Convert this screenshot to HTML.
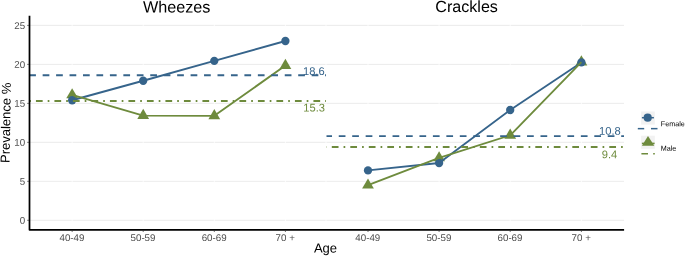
<!DOCTYPE html>
<html><head><meta charset="utf-8"><title>Prevalence</title>
<style>html,body{margin:0;padding:0;background:#fff;}svg{display:block;will-change:transform;}text{font-family:"Liberation Sans",sans-serif;}</style></head><body>
<svg width="685" height="256" viewBox="0 0 685 256">
<rect width="685" height="256" fill="#fff"/>
<line x1="30" x2="624" y1="220.3" y2="220.3" stroke="#e9e9e9" stroke-width="0.9"/>
<line x1="30" x2="624" y1="181.32" y2="181.32" stroke="#e9e9e9" stroke-width="0.9"/>
<line x1="30" x2="624" y1="142.34" y2="142.34" stroke="#e9e9e9" stroke-width="0.9"/>
<line x1="30" x2="624" y1="103.36" y2="103.36" stroke="#e9e9e9" stroke-width="0.9"/>
<line x1="30" x2="624" y1="64.38" y2="64.38" stroke="#e9e9e9" stroke-width="0.9"/>
<line x1="30" x2="624" y1="25.4" y2="25.4" stroke="#e9e9e9" stroke-width="0.9"/>
<line x1="72.15" x2="72.15" y1="16" y2="229" stroke="#fff" stroke-width="0.8"/>
<line x1="143.2" x2="143.2" y1="16" y2="229" stroke="#fff" stroke-width="0.8"/>
<line x1="214.3" x2="214.3" y1="16" y2="229" stroke="#fff" stroke-width="0.8"/>
<line x1="285.4" x2="285.4" y1="16" y2="229" stroke="#fff" stroke-width="0.8"/>
<line x1="368.0" x2="368.0" y1="16" y2="229" stroke="#fff" stroke-width="0.8"/>
<line x1="439.1" x2="439.1" y1="16" y2="229" stroke="#fff" stroke-width="0.8"/>
<line x1="510.2" x2="510.2" y1="16" y2="229" stroke="#fff" stroke-width="0.8"/>
<line x1="581.4" x2="581.4" y1="16" y2="229" stroke="#fff" stroke-width="0.8"/>
<line x1="326.0" x2="326.0" y1="16" y2="229" stroke="#fff" stroke-width="0.8"/>
<polygon points="72.15,88.14 78.04,98.34 66.26,98.34" fill="#6E8B3D"/>
<polygon points="143.20,108.80 149.09,119.00 137.31,119.00" fill="#6E8B3D"/>
<polygon points="214.30,109.03 220.19,119.23 208.41,119.23" fill="#6E8B3D"/>
<polygon points="285.40,58.75 291.29,68.95 279.51,68.95" fill="#6E8B3D"/>
<circle cx="72.15" cy="100.24" r="4.15" fill="#36648B"/>
<circle cx="143.2" cy="80.75" r="4.15" fill="#36648B"/>
<circle cx="214.3" cy="60.87" r="4.15" fill="#36648B"/>
<circle cx="285.4" cy="40.99" r="4.15" fill="#36648B"/>
<polyline points="72.15,100.24 143.2,80.75 214.3,60.87 285.4,40.99" fill="none" stroke="#36648B" stroke-width="1.85" stroke-linejoin="round"/>
<polyline points="72.15,94.94 143.2,115.6 214.3,115.83 285.4,65.55" fill="none" stroke="#6E8B3D" stroke-width="1.85" stroke-linejoin="round"/>
<polygon points="368.00,178.42 373.89,188.62 362.11,188.62" fill="#6E8B3D"/>
<polygon points="439.10,151.13 444.99,161.33 433.21,161.33" fill="#6E8B3D"/>
<polygon points="510.20,128.52 516.09,138.72 504.31,138.72" fill="#6E8B3D"/>
<polygon points="581.40,55.24 587.29,65.44 575.51,65.44" fill="#6E8B3D"/>
<circle cx="368.0" cy="170.41" r="4.15" fill="#36648B"/>
<circle cx="439.1" cy="163.0" r="4.15" fill="#36648B"/>
<circle cx="510.2" cy="109.99" r="4.15" fill="#36648B"/>
<circle cx="581.4" cy="62.43" r="4.15" fill="#36648B"/>
<polyline points="368.0,170.41 439.1,163.0 510.2,109.99 581.4,62.43" fill="none" stroke="#36648B" stroke-width="1.85" stroke-linejoin="round"/>
<polyline points="368.0,185.22 439.1,157.93 510.2,135.32 581.4,62.04" fill="none" stroke="#6E8B3D" stroke-width="1.85" stroke-linejoin="round"/>
<line x1="29.2" x2="326.0" y1="75.29" y2="75.29" stroke="#36648B" stroke-width="1.85" stroke-dasharray="6.72 6.73" stroke-dashoffset="0"/>
<line x1="29.2" x2="326.0" y1="101.02" y2="101.02" stroke="#6E8B3D" stroke-width="1.85" stroke-dasharray="1.68 5.05 6.72 5.05" stroke-dashoffset="0"/>
<line x1="326.5" x2="624.0" y1="136.1" y2="136.1" stroke="#36648B" stroke-width="1.85" stroke-dasharray="6.72 6.73" stroke-dashoffset="1.2"/>
<line x1="326.5" x2="624.0" y1="147.02" y2="147.02" stroke="#6E8B3D" stroke-width="1.85" stroke-dasharray="1.68 5.05 6.72 5.05" stroke-dashoffset="1.43"/>
<text transform="translate(313.8,75.1) rotate(0.05)" font-size="11.15" text-anchor="middle" fill="#36648B">18.6</text>
<text transform="translate(314.1,111.5) rotate(0.05)" font-size="11.15" text-anchor="middle" fill="#6E8B3D">15.3</text>
<text transform="translate(609.9,134.8) rotate(0.05)" font-size="11.15" text-anchor="middle" fill="#36648B">10.8</text>
<text transform="translate(609.5,158.2) rotate(0.05)" font-size="11.15" text-anchor="middle" fill="#6E8B3D">9.4</text>
<polyline points="29.5,15.8 29.5,229.75 624.1,229.75" fill="none" stroke="#000" stroke-width="1.75" stroke-linejoin="round"/>
<line x1="27.2" x2="29" y1="220.3" y2="220.3" stroke="#333" stroke-width="0.7"/>
<text transform="translate(25.2,223.8) rotate(0.05)" font-size="9.75" text-anchor="end" fill="#4d4d4d">0</text>
<line x1="27.2" x2="29" y1="181.32" y2="181.32" stroke="#333" stroke-width="0.7"/>
<text transform="translate(25.2,184.82) rotate(0.05)" font-size="9.75" text-anchor="end" fill="#4d4d4d">5</text>
<line x1="27.2" x2="29" y1="142.34" y2="142.34" stroke="#333" stroke-width="0.7"/>
<text transform="translate(25.2,145.84) rotate(0.05)" font-size="9.75" text-anchor="end" fill="#4d4d4d">10</text>
<line x1="27.2" x2="29" y1="103.36" y2="103.36" stroke="#333" stroke-width="0.7"/>
<text transform="translate(25.2,106.86) rotate(0.05)" font-size="9.75" text-anchor="end" fill="#4d4d4d">15</text>
<line x1="27.2" x2="29" y1="64.38" y2="64.38" stroke="#333" stroke-width="0.7"/>
<text transform="translate(25.2,67.88) rotate(0.05)" font-size="9.75" text-anchor="end" fill="#4d4d4d">20</text>
<line x1="27.2" x2="29" y1="25.4" y2="25.4" stroke="#333" stroke-width="0.7"/>
<text transform="translate(25.2,28.9) rotate(0.05)" font-size="9.75" text-anchor="end" fill="#4d4d4d">25</text>
<line x1="72.15" x2="72.15" y1="230.5" y2="232" stroke="#333" stroke-width="0.7"/>
<text transform="translate(71.95,241.0) rotate(0.05)" font-size="9.75" text-anchor="middle" fill="#4d4d4d">40-49</text>
<line x1="143.2" x2="143.2" y1="230.5" y2="232" stroke="#333" stroke-width="0.7"/>
<text transform="translate(143.0,241.0) rotate(0.05)" font-size="9.75" text-anchor="middle" fill="#4d4d4d">50-59</text>
<line x1="214.3" x2="214.3" y1="230.5" y2="232" stroke="#333" stroke-width="0.7"/>
<text transform="translate(214.10000000000002,241.0) rotate(0.05)" font-size="9.75" text-anchor="middle" fill="#4d4d4d">60-69</text>
<line x1="285.4" x2="285.4" y1="230.5" y2="232" stroke="#333" stroke-width="0.7"/>
<text transform="translate(285.2,241.0) rotate(0.05)" font-size="9.75" text-anchor="middle" fill="#4d4d4d">70 +</text>
<line x1="368.0" x2="368.0" y1="230.5" y2="232" stroke="#333" stroke-width="0.7"/>
<text transform="translate(367.8,241.0) rotate(0.05)" font-size="9.75" text-anchor="middle" fill="#4d4d4d">40-49</text>
<line x1="439.1" x2="439.1" y1="230.5" y2="232" stroke="#333" stroke-width="0.7"/>
<text transform="translate(438.90000000000003,241.0) rotate(0.05)" font-size="9.75" text-anchor="middle" fill="#4d4d4d">50-59</text>
<line x1="510.2" x2="510.2" y1="230.5" y2="232" stroke="#333" stroke-width="0.7"/>
<text transform="translate(510.0,241.0) rotate(0.05)" font-size="9.75" text-anchor="middle" fill="#4d4d4d">60-69</text>
<line x1="581.4" x2="581.4" y1="230.5" y2="232" stroke="#333" stroke-width="0.7"/>
<text transform="translate(581.1999999999999,241.0) rotate(0.05)" font-size="9.75" text-anchor="middle" fill="#4d4d4d">70 +</text>
<text transform="translate(176.7,12.5) rotate(0.05)" font-size="16.2" text-anchor="middle" fill="#000">Wheezes</text>
<text transform="translate(466.6,12.05) rotate(0.05)" font-size="16.1" text-anchor="middle" fill="#000">Crackles</text>
<text transform="translate(325.5,252.6) rotate(0.05)" font-size="13.05" text-anchor="middle" fill="#000">Age</text>
<text transform="translate(10.3,122.9) rotate(-89.0)" font-size="13" text-anchor="middle" fill="#000">Prevalence %</text>
<rect x="641.1" y="111.5" width="13.7" height="13.1" fill="#f2f2f2"/>
<line x1="641.9" x2="653.9" y1="117.7" y2="117.7" stroke="#36648B" stroke-width="1.5"/>
<circle cx="647.7" cy="117.7" r="4.1" fill="#36648B"/>
<line x1="637.8" x2="644.2" y1="128.65" y2="128.65" stroke="#36648B" stroke-width="1.5"/>
<line x1="651" x2="657.5" y1="128.65" y2="128.65" stroke="#36648B" stroke-width="1.5"/>
<text transform="translate(660.8,126.2) rotate(0.05)" font-size="7.2" text-anchor="start" fill="#000">Female</text>
<rect x="641.1" y="135.7" width="13.7" height="13.1" fill="#f2f2f2"/>
<line x1="641.9" x2="654.6" y1="143.4" y2="143.4" stroke="#6E8B3D" stroke-width="1.5"/>
<polygon points="648,136.1 654.3,145.8 641.9,145.8" fill="#6E8B3D"/>
<line x1="641.4" x2="648" y1="153.75" y2="153.75" stroke="#6E8B3D" stroke-width="1.5"/>
<line x1="653.2" x2="654.8" y1="153.75" y2="153.75" stroke="#6E8B3D" stroke-width="1.5"/>
<text transform="translate(660.7,150.8) rotate(0.05)" font-size="7.2" text-anchor="start" fill="#000">Male</text>
</svg></body></html>
